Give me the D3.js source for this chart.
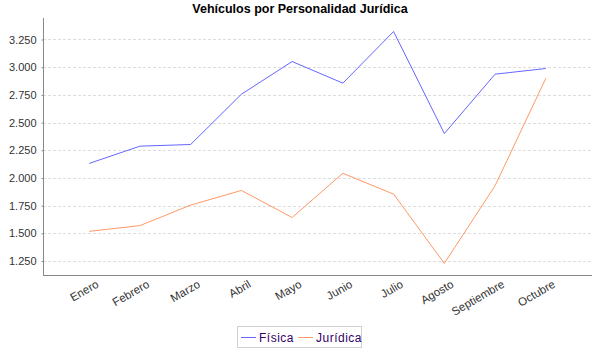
<!DOCTYPE html>
<html><head><meta charset="utf-8">
<script src="https://cdn.jsdelivr.net/npm/d3@7"></script>
<style>body{margin:0;background:#fff;} svg{display:block;font-family:"Liberation Sans",Arial,sans-serif;}</style>
</head><body>
<svg id="c" width="600" height="350"></svg>
<script>
const categories = ["Enero","Febrero","Marzo","Abril","Mayo","Junio","Julio","Agosto","Septiembre","Octubre"];
const fisica = [2.131, 2.287, 2.302, 2.756, 3.051, 2.856, 3.322, 2.401, 2.937, 2.988];
const juridica = [1.518, 1.570, 1.755, 1.887, 1.643, 2.042, 1.854, 1.229, 1.930, 2.900];
const seriesNames = ["Física","Jurídica"];
const colors = ["#6666ff","#ff9966"];
const yTicks = [1.25, 1.5, 1.75, 2.0, 2.25, 2.5, 2.75, 3.0, 3.25];

const svg = d3.select("#c");
const L = 43, R = 592, T = 18, B = 275;
const x = d3.scalePoint().domain(categories).range([L, R]).padding(0.91);
const y = d3.scaleLinear().domain([1.124, 3.444]).range([B, T]);

svg.append("text").attr("x", 300).attr("y", 13).attr("text-anchor","middle")
  .style("font-size","12.5px").style("font-weight","bold").text("Vehículos por Personalidad Jurídica");

// gridlines
svg.append("g").selectAll("line").data(yTicks).join("line")
  .attr("x1", L).attr("x2", R).attr("y1", d=>Math.round(y(d))+0.5).attr("y2", d=>Math.round(y(d))+0.5)
  .attr("stroke","#dddddd").attr("stroke-dasharray","3,2");

// y axis
const ya = svg.append("g").attr("transform",`translate(${L+0.5},0)`)
  .call(d3.axisLeft(y).tickValues(yTicks).tickSize(2).tickPadding(5).tickFormat(d=>d3.format(".3f")(d)));
ya.select(".domain").attr("stroke","#888").attr("d", `M0,${T}V${B}`);
ya.selectAll(".tick line").attr("stroke","#888");
ya.selectAll("text").style("font-size","11px").attr("fill","#333").style("font-family","'Liberation Sans',Arial,sans-serif");

// x axis
svg.append("line").attr("x1",L).attr("x2",R).attr("y1",B+0.5).attr("y2",B+0.5).attr("stroke","#888");
svg.append("g").selectAll("text").data(categories).join("text")
  .attr("transform", d=>`translate(${x(d)+6},${B+4}) rotate(-30)`)
  .attr("text-anchor","end").attr("dy","0.75em")
  .style("font-size","11.5px").attr("fill","#333").text(d=>d);

const line = d3.line().x((d,i)=>x(categories[i])).y(d=>y(d));
[fisica, juridica].forEach((s,i)=>{
  svg.append("path").datum(s).attr("d", line).attr("fill","none")
    .attr("stroke", colors[i]).attr("stroke-width",1);
});

// legend
const lg = svg.append("g");
lg.append("rect").attr("x",237.5).attr("y",326.5).attr("width",124).attr("height",21)
  .attr("fill","#fff").attr("stroke","#d0d0d0");
const items = [{n:seriesNames[0],c:colors[0],x:241},{n:seriesNames[1],c:colors[1],x:298}];
items.forEach(it=>{
  lg.append("line").attr("x1",it.x).attr("x2",it.x+15).attr("y1",337.5).attr("y2",337.5).attr("stroke",it.c);
  lg.append("text").attr("x",it.x+18).attr("y",342).style("font-size","12px").style("letter-spacing","0.5px").attr("fill","#330066").text(it.n);
});
</script>
</body></html>
